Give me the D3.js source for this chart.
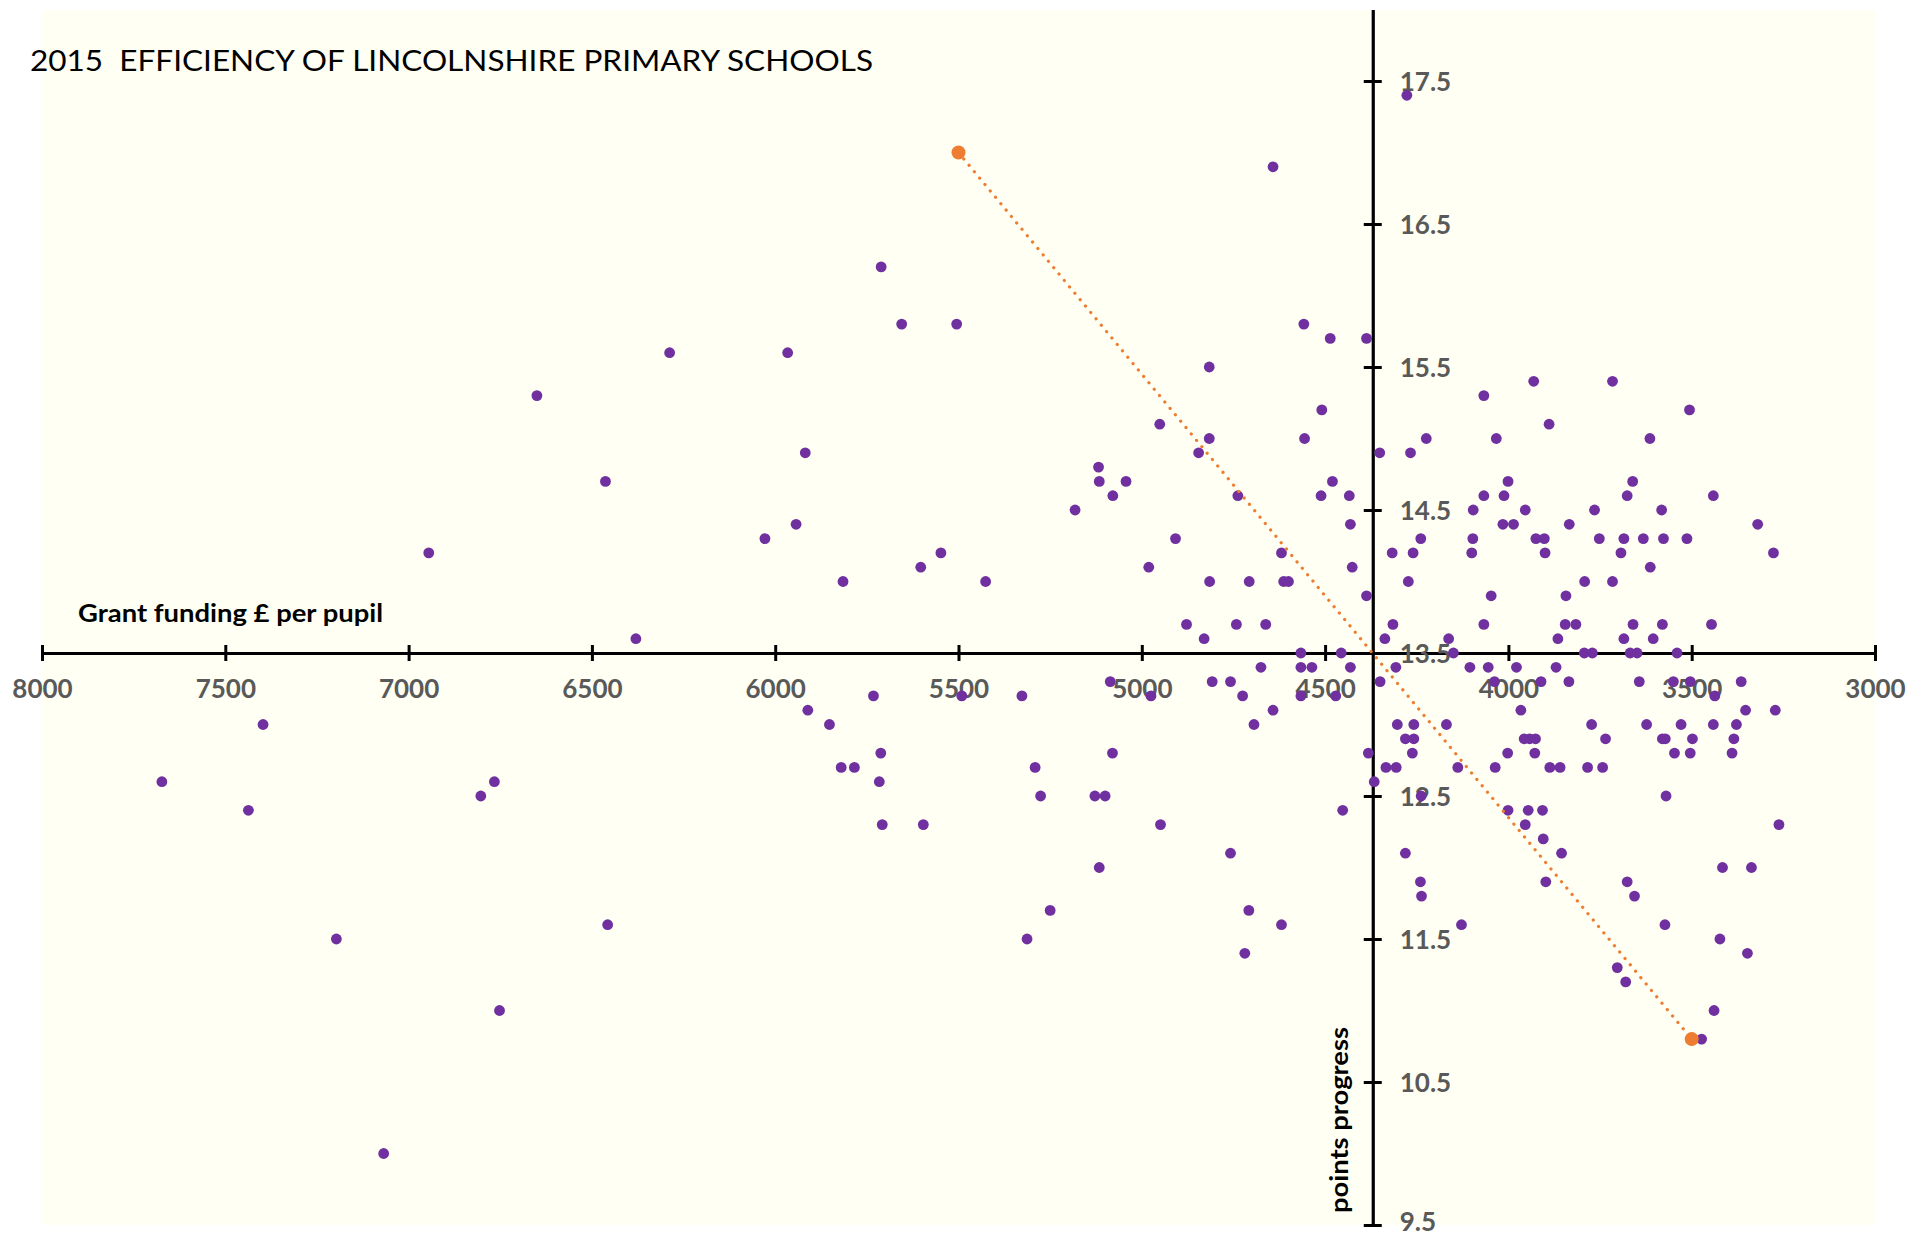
<!DOCTYPE html>
<html>
<head>
<meta charset="utf-8">
<script src="https://cdn.jsdelivr.net/npm/d3@7"></script>
<style>
  body { margin: 0; background: #fff; }
  svg { display: block; }
</style>
</head>
<body>
<script>
// grant funding per pupil (£), points progress
var schools = [
  [4277, 17.4], [4642, 16.9], [5711, 16.2],
  [5655, 15.8], [5505, 15.8], [4558, 15.8],
  [4486, 15.7], [4387, 15.7],
  [6288, 15.6], [5966, 15.6],
  [4816, 15.5],
  [3931, 15.4], [3716, 15.4],
  [6650, 15.3], [4067, 15.3],
  [4509, 15.2], [3506, 15.2],
  [4951, 15.1], [3889, 15.1],
  [4816, 15.0], [4556, 15.0], [4224, 15.0], [4033, 15.0], [3614, 15.0],
  [5918, 14.9], [4845, 14.9], [4351, 14.9], [4267, 14.9],
  [5118, 14.8],
  [6463, 14.7], [5116, 14.7], [5043, 14.7], [4480, 14.7], [4001, 14.7], [3661, 14.7],
  [5079, 14.6], [4738, 14.6], [4511, 14.6], [4434, 14.6], [4067, 14.6], [4012, 14.6], [3676, 14.6], [3441, 14.6],
  [5182, 14.5], [4096, 14.5], [3954, 14.5], [3765, 14.5], [3582, 14.5],
  [5943, 14.4], [4431, 14.4], [4015, 14.4], [3986, 14.4], [3834, 14.4], [3320, 14.4],
  [6028, 14.3], [4908, 14.3], [4239, 14.3], [4097, 14.3], [3925, 14.3], [3902, 14.3], [3752, 14.3], [3685, 14.3], [3632, 14.3], [3577, 14.3], [3513, 14.3],
  [6945, 14.2], [5548, 14.2], [4619, 14.2], [4317, 14.2], [4260, 14.2], [4100, 14.2], [3900, 14.2], [3693, 14.2], [3277, 14.2],
  [5603, 14.1], [4981, 14.1], [4426, 14.1], [3613, 14.1],
  [5815, 14.0], [5426, 14.0], [4815, 14.0], [4707, 14.0], [4613, 14.0], [4600, 14.0], [4273, 14.0], [3792, 14.0], [3716, 14.0],
  [4387, 13.9], [4047, 13.9], [3843, 13.9],
  [4878, 13.7], [4742, 13.7], [4662, 13.7], [4315, 13.7], [4067, 13.7], [3845, 13.7], [3816, 13.7], [3660, 13.7], [3580, 13.7], [3446, 13.7],
  [6380, 13.6], [4830, 13.6], [4337, 13.6], [4163, 13.6], [3865, 13.6], [3685, 13.6], [3605, 13.6],
  [4566, 13.5], [4456, 13.5], [4150, 13.5], [3793, 13.5], [3771, 13.5], [3668, 13.5], [3649, 13.5], [3540, 13.5],
  [4675, 13.4], [4566, 13.4], [4536, 13.4], [4431, 13.4], [4307, 13.4], [4105, 13.4], [4055, 13.4], [3978, 13.4], [3870, 13.4],
  [5086, 13.3], [4808, 13.3], [4758, 13.3], [4350, 13.3], [4038, 13.3], [3911, 13.3], [3835, 13.3], [3643, 13.3], [3550, 13.3], [3504, 13.3], [3365, 13.3],
  [5732, 13.2], [5491, 13.2], [5327, 13.2], [4975, 13.2], [4725, 13.2], [4566, 13.2], [4471, 13.2], [3437, 13.2],
  [5911, 13.1], [4642, 13.1], [3966, 13.1], [3353, 13.1], [3272, 13.1],
  [7397, 13.0], [5852, 13.0], [4694, 13.0], [4303, 13.0], [4258, 13.0], [4169, 13.0], [3773, 13.0], [3623, 13.0], [3529, 13.0], [3441, 13.0], [3378, 13.0],
  [4281, 12.9], [4258, 12.9], [3957, 12.9], [3942, 12.9], [3926, 12.9], [3735, 12.9], [3580, 12.9], [3572, 12.9], [3498, 12.9], [3385, 12.9],
  [5712, 12.8], [5080, 12.8], [4382, 12.8], [4262, 12.8], [4002, 12.8], [3928, 12.8], [3547, 12.8], [3504, 12.8], [3390, 12.8],
  [5820, 12.7], [5784, 12.7], [5291, 12.7], [4334, 12.7], [4306, 12.7], [4138, 12.7], [4036, 12.7], [3887, 12.7], [3859, 12.7], [3784, 12.7], [3743, 12.7],
  [7673, 12.6], [6766, 12.6], [5716, 12.6], [4366, 12.6],
  [6803, 12.5], [5276, 12.5], [5128, 12.5], [5100, 12.5], [4238, 12.5], [3570, 12.5],
  [7437, 12.4], [4452, 12.4], [4001, 12.4], [3946, 12.4], [3907, 12.4],
  [5708, 12.3], [5596, 12.3], [4949, 12.3], [3954, 12.3], [3262, 12.3],
  [3905, 12.2],
  [4758, 12.1], [4281, 12.1], [3855, 12.1],
  [5116, 12.0], [3416, 12.0], [3337, 12.0],
  [4240, 11.9], [3898, 11.9], [3676, 11.9],
  [4237, 11.8], [3656, 11.8],
  [5250, 11.7], [4708, 11.7],
  [6457, 11.6], [4619, 11.6], [4128, 11.6], [3573, 11.6],
  [7197, 11.5], [5313, 11.5], [3423, 11.5],
  [4719, 11.4], [3348, 11.4],
  [3703, 11.3],
  [3680, 11.2],
  [6752, 11.0], [3439, 11.0],
  [3473, 10.8],
  [7068, 10.0]
];

var trendFunding = [5500, 3500];
var trendProgress = [17.0, 10.8];

var fundingTicks = [8000, 7500, 7000, 6500, 6000, 5500, 5000, 4500, 4000, 3500, 3000];
var progressTicks = [9.5, 10.5, 11.5, 12.5, 13.5, 14.5, 15.5, 16.5, 17.5];

var crossFunding = 4370;
var crossProgress = 13.5;

var titleText = "2015  EFFICIENCY OF LINCOLNSHIRE PRIMARY SCHOOLS";
var xTitle = "Grant funding £ per pupil";
var yTitle = "points progress";

var width = 1910, height = 1239;
var x = d3.scaleLinear().domain([8000, 3000]).range([42, 1875]);
var y = d3.scaleLinear().domain([9.5, 18]).range([1225, 9.5]);

var svg = d3.select("body").append("svg")
  .attr("width", width)
  .attr("height", height);

svg.append("rect")
  .attr("width", width).attr("height", height)
  .attr("fill", "#fff");

// plot area
svg.append("rect")
  .attr("x", 41).attr("y", 10)
  .attr("width", 1834).attr("height", 1215)
  .attr("fill", "#fffff3");

// title
svg.append("text")
  .attr("x", 30).attr("y", 71)
  .attr("font-family", "Lato, 'Open Sans', sans-serif")
  .attr("font-size", 29)
  .attr("fill", "#000")
  .attr("textLength", 843)
  .attr("lengthAdjust", "spacingAndGlyphs")
  .style("white-space", "pre")
  .text(titleText);

// x axis
var xAxis = svg.append("g")
  .attr("transform", "translate(0," + y(crossProgress) + ")")
  .call(d3.axisBottom(x).tickValues(fundingTicks).tickFormat(d3.format("d"))
    .tickSize(0).tickSizeOuter(0));
xAxis.select(".domain").attr("stroke", "#000").attr("stroke-width", 3.2);
xAxis.selectAll(".tick line")
  .attr("y1", -8).attr("y2", 8)
  .attr("stroke", "#000").attr("stroke-width", 3);
xAxis.selectAll(".tick text")
  .attr("y", 36).attr("dy", "0.35em")
  .attr("font-family", "Lato, 'Open Sans', sans-serif")
  .attr("font-weight", 700)
  .attr("font-size", 26)
  .attr("fill", "#595959");

// y axis
var yAxis = svg.append("g")
  .attr("transform", "translate(" + x(crossFunding) + ",0)")
  .call(d3.axisRight(y).tickValues(progressTicks).tickFormat(d3.format(".1f"))
    .tickSize(0).tickSizeOuter(0));
yAxis.select(".domain").attr("stroke", "#000").attr("stroke-width", 3.2);
yAxis.selectAll(".tick line")
  .attr("x1", -9).attr("x2", 9)
  .attr("stroke", "#000").attr("stroke-width", 3);
yAxis.selectAll(".tick text")
  .attr("x", 27)
  .attr("dy", function (d) { return d === 9.5 ? "0.2em" : "0.35em"; })
  .attr("font-family", "Lato, 'Open Sans', sans-serif")
  .attr("font-weight", 700)
  .attr("font-size", 26)
  .attr("fill", "#595959");

// axis titles
svg.append("text")
  .attr("x", 78).attr("y", 622)
  .attr("font-family", "Lato, 'Open Sans', sans-serif")
  .attr("font-weight", 700)
  .attr("font-size", 24)
  .attr("textLength", 305)
  .attr("lengthAdjust", "spacingAndGlyphs")
  .text(xTitle);

svg.append("text")
  .attr("transform", "translate(1348,1213) rotate(-90)")
  .attr("font-family", "Lato, 'Open Sans', sans-serif")
  .attr("font-weight", 700)
  .attr("font-size", 24)
  .attr("textLength", 186)
  .attr("lengthAdjust", "spacingAndGlyphs")
  .text(yTitle);

// schools
svg.append("g").selectAll("circle")
  .data(schools)
  .enter().append("circle")
  .attr("cx", function (d) { return x(d[0]); })
  .attr("cy", function (d) { return y(d[1]); })
  .attr("r", 5.4)
  .attr("fill", "#7030a0");

// trend
var trend = trendFunding.map(function (f, i) { return [f, trendProgress[i]]; });
svg.append("path")
  .datum(trend)
  .attr("d", d3.line().x(function (d) { return x(d[0]); }).y(function (d) { return y(d[1]); }))
  .attr("fill", "none")
  .attr("stroke", "#ed7d31")
  .attr("stroke-width", 3.2)
  .attr("stroke-linecap", "round")
  .attr("stroke-dasharray", "0.1 8.2");

svg.append("g").selectAll("circle")
  .data(trend)
  .enter().append("circle")
  .attr("cx", function (d) { return x(d[0]); })
  .attr("cy", function (d) { return y(d[1]); })
  .attr("r", 7)
  .attr("fill", "#ed7d31");
</script>
</body>
</html>
